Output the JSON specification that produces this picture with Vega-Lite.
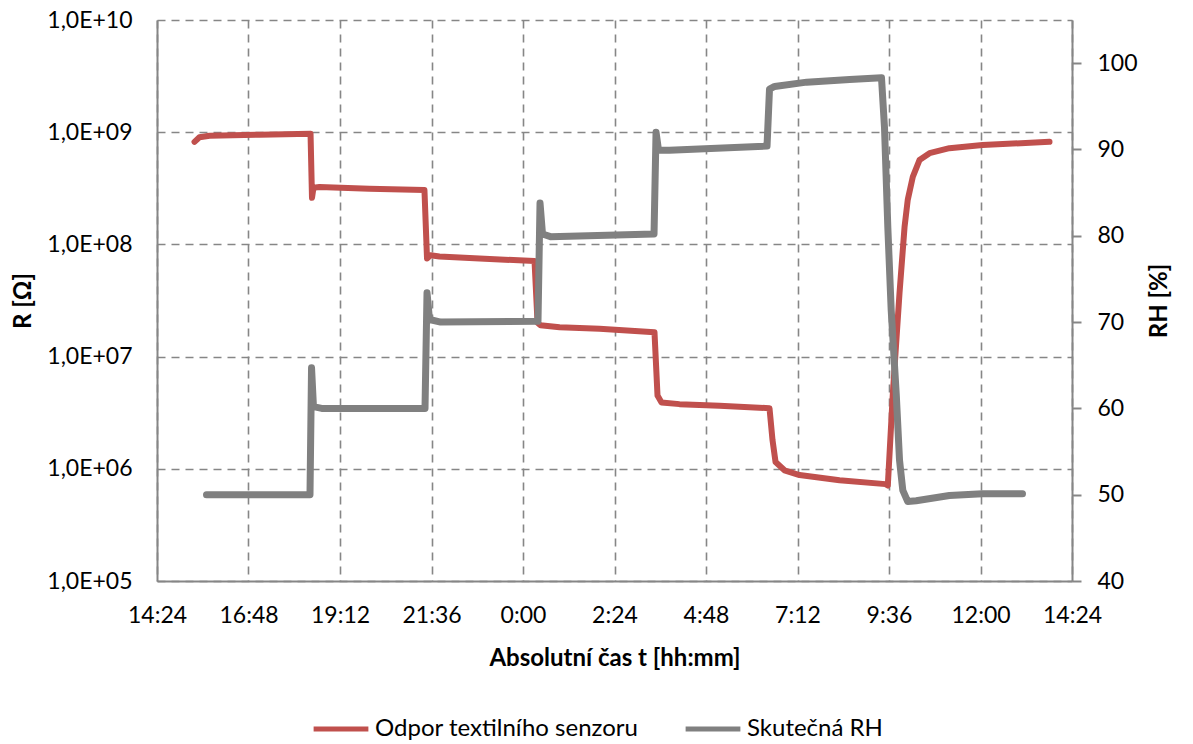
{
  "$schema": "https://vega.github.io/schema/vega-lite/v6.json",
  "width": 915,
  "height": 561,
  "autosize": {"type": "none"},
  "padding": {"left": 157, "top": 20, "right": 121, "bottom": 163},
  "background": "white",
  "config": {
    "font": "Lato",
    "view": {"stroke": null},
    "axis": {
      "labelColor": "black",
      "titleColor": "black",
      "labelFontSize": 23,
      "titleFontSize": 24,
      "titleFontWeight": "bold",
      "domainColor": "#868686",
      "domainWidth": 2,
      "gridColor": "#868686",
      "gridDash": [8, 6],
      "gridWidth": 1.6,
      "labelFlush": false,
      "labelOverlap": false
    },
    "legend": {
      "labelFontSize": 24,
      "labelColor": "black",
      "labelLimit": 500
    }
  },
  "datasets": {
    "r": [
      {"t": 0.641, "R": 820000000},
      {"t": 0.6464, "R": 900000000},
      {"t": 0.6574, "R": 930000000},
      {"t": 0.712, "R": 950000000},
      {"t": 0.7678, "R": 970000000},
      {"t": 0.7694, "R": 260000000},
      {"t": 0.771, "R": 320000000},
      {"t": 0.7776, "R": 325000000},
      {"t": 0.832, "R": 314000000},
      {"t": 0.8923, "R": 305000000},
      {"t": 0.8951, "R": 75000000},
      {"t": 0.8989, "R": 80000000},
      {"t": 0.9087, "R": 78000000},
      {"t": 0.9525, "R": 75000000},
      {"t": 1.0126, "R": 71000000},
      {"t": 1.0159, "R": 20000000},
      {"t": 1.0191, "R": 19000000},
      {"t": 1.04, "R": 18300000},
      {"t": 1.0836, "R": 17700000},
      {"t": 1.1437, "R": 16500000},
      {"t": 1.147, "R": 4500000},
      {"t": 1.1514, "R": 3900000},
      {"t": 1.171, "R": 3770000},
      {"t": 1.2148, "R": 3650000},
      {"t": 1.2694, "R": 3470000},
      {"t": 1.2727, "R": 1800000},
      {"t": 1.276, "R": 1150000},
      {"t": 1.2858, "R": 970000},
      {"t": 1.3022, "R": 880000},
      {"t": 1.3459, "R": 790000},
      {"t": 1.3962, "R": 730000},
      {"t": 1.3987, "R": 710000},
      {"t": 1.4042, "R": 4700000},
      {"t": 1.4115, "R": 37000000},
      {"t": 1.417, "R": 143000000},
      {"t": 1.4205, "R": 250000000},
      {"t": 1.426, "R": 400000000},
      {"t": 1.4333, "R": 565000000},
      {"t": 1.4443, "R": 650000000},
      {"t": 1.466, "R": 720000000},
      {"t": 1.5022, "R": 770000000},
      {"t": 1.5754, "R": 820000000}
    ],
    "rh": [
      {"t": 0.6541, "RH": 50.0},
      {"t": 0.7672, "RH": 50.0},
      {"t": 0.7689, "RH": 64.7},
      {"t": 0.771, "RH": 60.2},
      {"t": 0.78, "RH": 60.0},
      {"t": 0.8929, "RH": 60.0},
      {"t": 0.8951, "RH": 73.4},
      {"t": 0.8978, "RH": 70.3},
      {"t": 0.91, "RH": 70.0},
      {"t": 1.0164, "RH": 70.1},
      {"t": 1.0186, "RH": 83.8},
      {"t": 1.0213, "RH": 80.2},
      {"t": 1.03, "RH": 79.9},
      {"t": 1.1432, "RH": 80.2},
      {"t": 1.1454, "RH": 92.0},
      {"t": 1.1481, "RH": 89.9},
      {"t": 1.16, "RH": 89.9},
      {"t": 1.2667, "RH": 90.4},
      {"t": 1.2694, "RH": 97.0},
      {"t": 1.275, "RH": 97.3},
      {"t": 1.31, "RH": 97.8},
      {"t": 1.357, "RH": 98.1},
      {"t": 1.3918, "RH": 98.3},
      {"t": 1.3951, "RH": 92.5},
      {"t": 1.3987, "RH": 81.0},
      {"t": 1.4024, "RH": 71.4},
      {"t": 1.4079, "RH": 61.7},
      {"t": 1.4115, "RH": 54.0},
      {"t": 1.4151, "RH": 50.5},
      {"t": 1.4205, "RH": 49.2},
      {"t": 1.4297, "RH": 49.3},
      {"t": 1.466, "RH": 49.9},
      {"t": 1.5022, "RH": 50.1},
      {"t": 1.5459, "RH": 50.1}
    ]
  },
  "encoding": {
    "x": {
      "field": "t",
      "type": "quantitative",
      "scale": {"domain": [0.6, 1.6], "nice": false, "zero": false},
      "axis": {
        "values": [0.6, 0.7, 0.8, 0.9, 1.0, 1.1, 1.2, 1.3, 1.4, 1.5, 1.6],
        "labelExpr": "floor((round(datum.value*1440)%1440)/60) + ':' + (round(datum.value*1440)%60 < 10 ? '0' : '') + (round(datum.value*1440)%60)",
        "title": "Absolutní čas t [hh:mm]",
        "grid": true,
        "ticks": false,
        "labelPadding": 23,
        "titlePadding": 19
      }
    }
  },
  "layer": [
    {
      "data": {"name": "r"},
      "mark": {"type": "line", "strokeWidth": 6, "strokeCap": "round", "strokeJoin": "round"},
      "encoding": {
        "y": {
          "field": "R",
          "type": "quantitative",
          "scale": {"type": "log", "domain": [100000, 10000000000], "nice": false},
          "axis": {
            "values": [100000, 1000000, 10000000, 100000000, 1000000000, 10000000000],
            "labelExpr": "'1,0E+' + (round(log(datum.value)/LN10) < 10 ? '0' : '') + round(log(datum.value)/LN10)",
            "title": "R [Ω]",
            "grid": true,
            "ticks": false,
            "labelPadding": 25,
            "titlePadding": 11
          }
        },
        "color": {
          "datum": "Odpor textilního senzoru",
          "type": "nominal",
          "scale": {"domain": ["Odpor textilního senzoru", "Skutečná RH"], "range": ["#C0504D", "#808080"]},
          "legend": {
            "title": null,
            "orient": "none",
            "direction": "horizontal",
            "legendX": 154,
            "legendY": 679,
            "symbolType": "stroke",
            "symbolSize": 3000,
            "symbolStrokeWidth": 5,
            "labelOffset": 4,
            "columnPadding": 36
          }
        }
      }
    },
    {
      "data": {"name": "rh"},
      "mark": {"type": "line", "strokeWidth": 7, "strokeCap": "round", "strokeJoin": "round"},
      "encoding": {
        "y": {
          "field": "RH",
          "type": "quantitative",
          "scale": {"domain": [40, 105], "nice": false, "zero": false},
          "axis": {
            "orient": "right",
            "values": [40, 50, 60, 70, 80, 90, 100],
            "title": "RH [%]",
            "titleAngle": 270,
            "grid": false,
            "ticks": true,
            "tickSize": 9,
            "tickWidth": 2,
            "tickColor": "#868686",
            "labelPadding": 16,
            "titlePadding": 34
          }
        },
        "color": {"datum": "Skutečná RH", "type": "nominal"}
      }
    }
  ],
  "resolve": {"scale": {"y": "independent"}}
}
